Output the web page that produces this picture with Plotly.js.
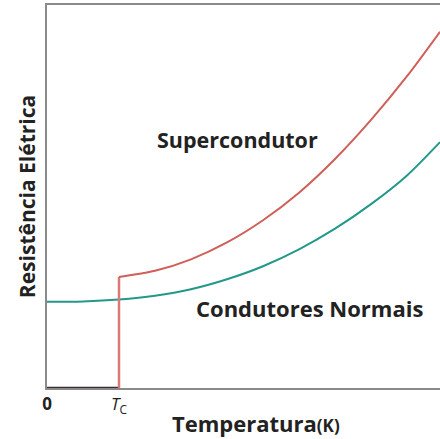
<!DOCTYPE html>
<html>
<head>
<meta charset="utf-8">
<script src="https://cdn.plot.ly/plotly-3.0.1.min.js"></script>
<style>html,body{margin:0;padding:0;background:#fff;}#chart{width:440px;height:439px;}</style>
</head>
<body>
<div id="chart"></div>
<script>
// Temperature in units of Tc, resistance in arbitrary units
const Tc = 1.0;
const floorT = [0, 1.0];
const floorR = [0, 0];
const jumpT = [1.0, 1.0];
const jumpR = [0, 2.9];
const superT = [1.0, 1.5, 2.0, 2.5, 3.0, 3.5, 4.0, 4.5, 5.0, 5.458];
const superR = [2.90, 3.06, 3.36, 3.80, 4.38, 5.10, 5.98, 7.00, 8.14, 9.30];
const normalT = [0, 0.5, 1.0, 1.5, 2.0, 2.5, 3.0, 3.5, 4.0, 4.5, 5.0, 5.458];
const normalR = [2.25, 2.26, 2.31, 2.41, 2.58, 2.84, 3.18, 3.62, 4.16, 4.80, 5.55, 6.42];
const tickVals = [0, Tc];
const tickText = ['<b>0</b>', '<i>T</i><sub>C</sub>'];
const labelSuper = 'Supercondutor';
const labelNormal = 'Condutores Normais';
const xTitle = 'Temperatura';
const xUnit = '(K)';
const yTitle = 'Resistência Elétrica';

const red = '#cf5f58';
const teal = '#23988a';
const font = 'Open Sans, Noto Sans, sans-serif';

const traces = [
  {x: normalT, y: normalR, mode: 'lines', line: {color: teal, width: 2, shape: 'spline', smoothing: 0.8}, hoverinfo: 'skip'},
  {x: floorT, y: floorR, mode: 'lines', line: {color: '#3a2c2c', width: 2.5}, hoverinfo: 'skip', cliponaxis: false},
  {x: jumpT, y: jumpR, mode: 'lines', line: {color: '#d97a78', width: 2.5}, hoverinfo: 'skip'},
  {x: superT, y: superR, mode: 'lines', line: {color: red, width: 2, shape: 'spline', smoothing: 0.8}, hoverinfo: 'skip'}
];

const layout = {
  width: 440, height: 439,
  margin: {l: 47, r: 0, t: 5, b: 51},
  paper_bgcolor: '#fff', plot_bgcolor: '#fff',
  showlegend: false,
  font: {family: font, color: '#222'},
  xaxis: {
    range: [0, 5.458], showgrid: false, zeroline: false,
    showline: true, linecolor: '#8a8a8a', linewidth: 2, mirror: true,
    tickvals: tickVals, ticktext: tickText, ticks: '',
    tickfont: {size: 17, color: '#222', family: font}
  },
  yaxis: {
    range: [0, 10], showgrid: false, zeroline: false,
    showline: true, linecolor: '#8a8a8a', linewidth: 2,
    showticklabels: false, ticks: '',
    title: {text: '<b>' + yTitle + '</b>', font: {size: 21, color: '#222', family: font}, standoff: 4}
  },
  annotations: [
    {x: 2.64, y: 6.48, xref: 'x', yref: 'y', text: '<b>' + labelSuper + '</b>', showarrow: false, font: {size: 21.5, color: '#222', family: font}},
    {x: 3.65, y: 2.09, xref: 'x', yref: 'y', text: '<b>' + labelNormal + '</b>', showarrow: false, font: {size: 22, color: '#222', family: font}},
    {x: (256 - 47) / 393, y: -35 / 383, xref: 'paper', yref: 'paper', yanchor: 'middle', xanchor: 'center',
     text: '<b>' + xTitle + '</b><span style="font-size:17px"><b>' + xUnit + '</b></span>', showarrow: false,
     font: {size: 22, color: '#222', family: font}}
  ]
};

Plotly.newPlot('chart', traces, layout, {displayModeBar: false, staticPlot: true});
</script>
</body>
</html>
